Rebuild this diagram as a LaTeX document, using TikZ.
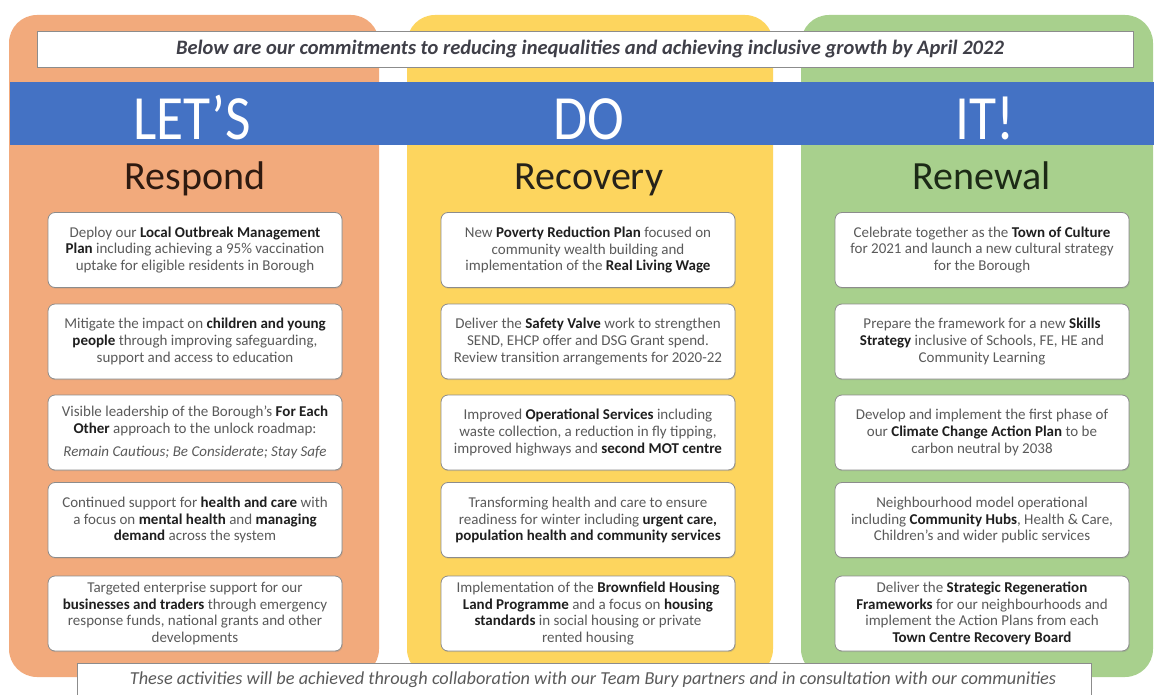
\documentclass[tikz,border=0pt]{standalone}
\usepackage{fontspec}
\setmainfont{Carlito}
\usetikzlibrary{shadows}
\definecolor{orcol}{HTML}{F2AA7C}
\definecolor{yecol}{HTML}{FDD55E}
\definecolor{grcol}{HTML}{A8D08D}
\definecolor{bluebar}{HTML}{4472C4}
\definecolor{boxtext}{HTML}{5A5A5A}
\definecolor{boldtext}{HTML}{1F1F1F}
\definecolor{boxline}{HTML}{8C8C8C}
\definecolor{bannertext}{HTML}{3F3F48}
\definecolor{headA}{HTML}{2E1A10}
\definecolor{headB}{HTML}{26221A}
\definecolor{headC}{HTML}{1C2A16}
\newcommand{\hb}[1]{{\bfseries\color{boldtext}#1}}
\newcommand{\narrow}[1]{\scalebox{0.88}[1]{#1}}
\tikzset{
  column/.style={rounded corners=28pt, inner sep=0pt, outer sep=0pt, minimum height=662pt},
  item/.style={draw=boxline, line width=0.8pt, fill=white, rounded corners=7pt,
    minimum width=294pt, minimum height=75pt, align=center, text=boxtext,
    font=\fontsize{15}{16.8}\selectfont, inner sep=1pt,
    drop shadow={opacity=0.25, shadow xshift=0.8pt, shadow yshift=-1.2pt}},
  heading/.style={font=\fontsize{40}{42}\selectfont, anchor=base},
  bigword/.style={text=white, font=\fontsize{63}{63}\selectfont, anchor=base},
  banner/.style={draw=boxline, fill=white, line width=0.7pt, inner sep=0pt, outer sep=0pt},
}
\begin{document}
\begin{tikzpicture}[x=1pt,y=-1pt]
\useasboundingbox (0,0) rectangle (1157,695);
\fill[white] (0,0) rectangle (1157,695);
% columns
\node[column, fill=orcol, minimum width=370pt] (colA) at (194,346) {};
\node[column, fill=yecol, minimum width=366pt] (colB) at (590,346) {};
\node[column, fill=grcol, minimum width=352pt] (colC) at (977,346) {};
% top banner
\node[banner, minimum width=1096pt, minimum height=36pt] (top) at (585,49) {};
\node[text=bannertext, font=\fontsize{20.5}{22}\selectfont\bfseries\itshape] (toptext) at (590,49)
  {Below are our commitments to reducing inequalities and achieving inclusive growth by April 2022};
% blue bar
\node[fill=bluebar, inner sep=0pt, minimum width=1144pt, minimum height=63pt] (bar) at (582,113.5) {};
\node[bigword] (lets) at (192,140) {\narrow{LET’S}};
\node[bigword] (do) at (589,140) {\narrow{DO}};
\node[bigword] (it) at (985,140) {\narrow{IT!}};
% headings
\node[heading, text=headA] (hA) at (195,190) {Respond};
\node[heading, text=headB] (hB) at (589,190) {Recovery};
\node[heading, text=headC] (hC) at (982,190) {Renewal};
% Respond column
\node[item] (a1) at (195,250) {Deploy our \hb{Local Outbreak Management}\\ \hb{Plan} including achieving a 95\% vaccination\\ uptake for eligible residents in Borough};
\node[item] (a2) at (195,341.5) {Mitigate the impact on \hb{children and young}\\ \hb{people} through improving safeguarding,\\ support and access to education};
\node[item] (a3) at (195,432.5) {Visible leadership of the Borough’s \hb{For Each}\\ \hb{Other} approach to the unlock roadmap:\\[7pt] \textit{Remain Cautious; Be Considerate; Stay Safe}};
\node[item] (a4) at (195,520) {Continued support for \hb{health and care} with\\ a focus on \hb{mental health} and \hb{managing}\\ \hb{demand} across the system};
\node[item] (a5) at (195,613.5) {Targeted enterprise support for our\\ \hb{businesses and traders} through emergency\\ response funds, national grants and other\\ developments};
% Recovery column
\node[item] (b1) at (588,250) {New \hb{Poverty Reduction Plan} focused on\\ community wealth building and\\ implementation of the \hb{Real Living Wage}};
\node[item] (b2) at (588,341.5) {Deliver the \hb{Safety Valve} work to strengthen\\ SEND, EHCP offer and DSG Grant spend.\\ Review transition arrangements for 2020-22};
\node[item] (b3) at (588,432.5) {Improved \hb{Operational Services} including\\ waste collection, a reduction in fly tipping,\\ improved highways and \hb{second MOT centre}};
\node[item] (b4) at (588,520) {Transforming health and care to ensure\\ readiness for winter including \hb{urgent care,}\\ \hb{population health and community services}};
\node[item] (b5) at (588,613.5) {Implementation of the \hb{Brownfield Housing}\\ \hb{Land Programme} and a focus on \hb{housing}\\ \hb{standards} in social housing or private\\ rented housing};
% Renewal column
\node[item] (c1) at (982,250) {Celebrate together as the \hb{Town of Culture}\\ for 2021 and launch a new cultural strategy\\ for the Borough};
\node[item] (c2) at (982,341.5) {Prepare the framework for a new \hb{Skills}\\ \hb{Strategy} inclusive of Schools, FE, HE and\\ Community Learning};
\node[item] (c3) at (982,432.5) {Develop and implement the first phase of\\ our \hb{Climate Change Action Plan} to be\\ carbon neutral by 2038};
\node[item] (c4) at (982,520) {Neighbourhood model operational\\ including \hb{Community Hubs}, Health \& Care,\\ Children’s and wider public services};
\node[item] (c5) at (982,613.5) {Deliver the \hb{Strategic Regeneration}\\ \hb{Frameworks} for our neighbourhoods and\\ implement the Action Plans from each\\ \hb{Town Centre Recovery Board}};
% bottom banner
\node[banner, minimum width=1014pt, minimum height=40pt] (bot) at (584,683) {};
\node[text=boxtext, font=\fontsize{18.3}{20}\selectfont\itshape] (bottext) at (593,680)
  {These activities will be achieved through collaboration with our Team Bury partners and in consultation with our communities};
\end{tikzpicture}
\end{document}
